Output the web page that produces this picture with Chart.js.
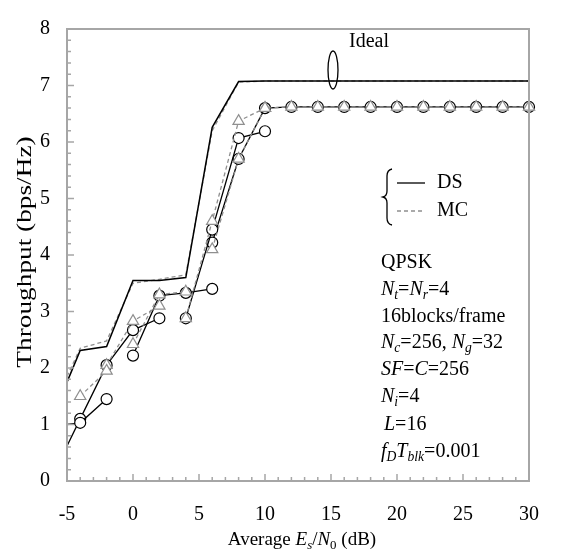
<!DOCTYPE html>
<html lang="en">
<head>
<meta charset="UTF-8">
<title>Throughput vs average Es/N0</title>
<script src="https://cdn.jsdelivr.net/npm/chart.js@4.4.0/dist/chart.umd.min.js"></script>
<style>
  body { margin: 0; background: #fff; }
  canvas { display: block; }
</style>
</head>
<body>
<canvas id="chart" width="561" height="554"></canvas>
<script>
  // x values (average Es/N0, dB) and throughput (bps/Hz)
  const idealX = [-5, -4, -2, 0, 2, 4, 6, 8, 10, 12, 14, 16, 18, 20, 22, 24, 26, 28, 30];
  const idealDS = [1.75, 2.31, 2.38, 3.55, 3.55, 3.6, 6.26, 7.07, 7.08, 7.08, 7.08, 7.08, 7.08, 7.08, 7.08, 7.08, 7.08, 7.08, 7.08];
  const idealMC = [1.85, 2.35, 2.48, 3.5, 3.57, 3.65, 6.2, 7.06, 7.08, 7.08, 7.08, 7.08, 7.08, 7.08, 7.08, 7.08, 7.08, 7.08, 7.08];

  // DS curves (circles)
  const dsAx = [-5, -4, -2];
  const dsAy = [1.0, 1.03, 1.45];
  const dsBx = [-5, -4, -2, 0, 2];
  const dsBy = [0.62, 1.1, 2.05, 2.67, 2.88];
  const dsCx = [0, 2, 4, 6];
  const dsCy = [2.22, 3.28, 3.33, 3.4];
  const dsDx = [4, 6, 8, 10];
  const dsDy = [2.88, 4.45, 6.07, 6.19];
  const dsEx = [6, 8, 10, 12, 14, 16, 18, 20, 22, 24, 26, 28, 30];
  const dsEy = [4.22, 5.7, 6.6, 6.62, 6.62, 6.62, 6.62, 6.62, 6.62, 6.62, 6.62, 6.62, 6.62];

  // MC curves (triangles)
  const mcAx = [-4, -2];
  const mcAy = [1.5, 1.95];
  const mcBx = [-2, 0, 2];
  const mcBy = [2.05, 2.83, 3.1];
  const mcCx = [0, 2, 4];
  const mcCy = [2.42, 3.3, 3.35];
  const mcDx = [4, 6, 8, 10];
  const mcDy = [2.88, 4.6, 6.37, 6.6];
  const mcEx = [6, 8, 10, 12, 14, 16, 18, 20, 22, 24, 26, 28, 30];
  const mcEy = [4.1, 5.7, 6.6, 6.62, 6.62, 6.62, 6.62, 6.62, 6.62, 6.62, 6.62, 6.62, 6.62];

  const xTicks = [-5, 0, 5, 10, 15, 20, 25, 30];
  const yTicks = [0, 1, 2, 3, 4, 5, 6, 7, 8];

  const SERIF = '"Liberation Serif", "Times New Roman", serif';
  const GRAY = '#8f8f8f';
  const AXIS = '#a6a6a6';

  const pts = (xs, ys) => xs.map((x, i) => ({ x: x, y: ys[i] }));

  function ideal(xs, ys, dashed) {
    return {
      data: pts(xs, ys),
      borderColor: dashed ? GRAY : '#000',
      borderWidth: dashed ? 1.3 : 1.5,
      borderDash: dashed ? [4, 3] : [],
      pointRadius: 0,
      order: 3
    };
  }

  function ds(xs, ys) {
    return {
      data: pts(xs, ys),
      borderColor: '#000',
      borderWidth: 1.3,
      pointStyle: 'circle',
      pointRadius: xs.map(x => x === -5 ? 0 : 5.5),
      pointBorderWidth: 1.2,
      pointBackgroundColor: '#fff',
      pointBorderColor: '#000',
      order: 2
    };
  }

  function mc(xs, ys) {
    return {
      data: pts(xs, ys),
      borderColor: GRAY,
      borderWidth: 1.3,
      borderDash: [4, 3],
      pointStyle: 'triangle',
      pointRadius: 6.5,
      pointBorderWidth: 1.2,
      pointBackgroundColor: '#fff',
      pointBorderColor: GRAY,
      order: 1
    };
  }

  function runs(ctx, x, y, parts, size) {
    // parts: [text, style] with style n / i / s (subscript) / si (italic subscript)
    let cx = x;
    parts.forEach(([t, st]) => {
      const sub = st[0] === 's';
      const it = st.indexOf('i') >= 0;
      const fs = sub ? size * 0.68 : size;
      ctx.font = (it ? 'italic ' : '') + fs + 'px ' + SERIF;
      ctx.fillText(t, cx, sub ? y + size * 0.28 : y);
      cx += ctx.measureText(t).width;
    });
    return cx - x;
  }

  function runsWidth(ctx, parts, size) {
    let w = 0;
    parts.forEach(([t, st]) => {
      const sub = st[0] === 's';
      const it = st.indexOf('i') >= 0;
      ctx.font = (it ? 'italic ' : '') + (sub ? size * 0.68 : size) + 'px ' + SERIF;
      w += ctx.measureText(t).width;
    });
    return w;
  }

  const decor = {
    id: 'decor',
    afterDraw(chart) {
      const ctx = chart.ctx;
      const a = chart.chartArea;
      const xs = chart.scales.x, ys = chart.scales.y;
      ctx.save();

      // frame
      ctx.strokeStyle = AXIS;
      ctx.lineWidth = 2;
      ctx.strokeRect(a.left, a.top, a.right - a.left, a.bottom - a.top);

      // inward ticks
      ctx.lineWidth = 1.5;
      ctx.beginPath();
      for (let v = -5; v <= 30; v++) {
        const p = xs.getPixelForValue(v);
        const len = v % 5 === 0 ? 7 : 4;
        ctx.moveTo(p, a.bottom);
        ctx.lineTo(p, a.bottom - len);
      }
      for (let k = 0; k <= 40; k++) {
        const v = k / 5;
        const p = ys.getPixelForValue(v);
        const len = k % 5 === 0 ? 7 : 4;
        ctx.moveTo(a.left, p);
        ctx.lineTo(a.left + len, p);
      }
      ctx.stroke();

      ctx.fillStyle = '#000';
      ctx.textBaseline = 'middle';
      ctx.textAlign = 'left';

      // axis titles
      ctx.save();
      ctx.translate(25, 252);
      ctx.rotate(-Math.PI / 2);
      ctx.scale(1.3, 1);
      ctx.textAlign = 'center';
      ctx.font = '21px ' + SERIF;
      ctx.fillText('Throughput (bps/Hz)', 0, 0);
      ctx.restore();

      const xt = [['Average ', 'n'], ['E', 'i'], ['s', 'si'], ['/', 'n'], ['N', 'i'], ['0', 's'], [' (dB)', 'n']];
      const w = runsWidth(ctx, xt, 19);
      runs(ctx, 302 - w / 2, 540, xt, 19);

      // "Ideal" label with ellipse
      ctx.font = '20px ' + SERIF;
      ctx.fillText('Ideal', 349, 42);
      ctx.strokeStyle = '#000';
      ctx.lineWidth = 1.3;
      ctx.beginPath();
      ctx.ellipse(333, 70, 5, 19, 0, 0, Math.PI * 2);
      ctx.stroke();

      // legend with brace
      ctx.beginPath();
      ctx.moveTo(392, 169);
      ctx.quadraticCurveTo(387, 170, 387, 176);
      ctx.lineTo(387, 191);
      ctx.quadraticCurveTo(387, 196, 383, 197);
      ctx.quadraticCurveTo(387, 198, 387, 203);
      ctx.lineTo(387, 218);
      ctx.quadraticCurveTo(387, 224, 392, 225);
      ctx.stroke();

      ctx.beginPath();
      ctx.moveTo(397, 183);
      ctx.lineTo(425, 183);
      ctx.stroke();
      ctx.strokeStyle = GRAY;
      ctx.setLineDash([4, 3]);
      ctx.beginPath();
      ctx.moveTo(397, 211);
      ctx.lineTo(425, 211);
      ctx.stroke();
      ctx.setLineDash([]);
      ctx.fillText('DS', 437, 183);
      ctx.fillText('MC', 437, 211);

      // simulation parameters
      const lines = [
        [['QPSK', 'n']],
        [['N', 'i'], ['t', 'si'], ['=', 'n'], ['N', 'i'], ['r', 'si'], ['=4', 'n']],
        [['16blocks/frame', 'n']],
        [['N', 'i'], ['c', 'si'], ['=256, ', 'n'], ['N', 'i'], ['g', 'si'], ['=32', 'n']],
        [['SF', 'i'], ['=', 'n'], ['C', 'i'], ['=256', 'n']],
        [['N', 'i'], ['i', 'si'], ['=4', 'n']],
        [['L', 'i'], ['=16', 'n']],
        [['f', 'i'], ['D', 'si'], ['T', 'i'], ['blk', 'si'], ['=0.001', 'n']]
      ];
      const ly = [263, 290, 317, 343, 370, 397, 425, 452];
      lines.forEach((ln, i) => runs(ctx, i === 6 ? 384 : 381, ly[i], ln, 20));

      ctx.restore();
    }
  };

  new Chart(document.getElementById('chart'), {
    type: 'line',
    data: {
      datasets: [
        ideal(idealX, idealDS, false),
        ideal(idealX, idealMC, true),
        ds(dsAx, dsAy), ds(dsBx, dsBy), ds(dsCx, dsCy), ds(dsDx, dsDy), ds(dsEx, dsEy),
        mc(mcAx, mcAy), mc(mcBx, mcBy), mc(mcCx, mcCy), mc(mcDx, mcDy), mc(mcEx, mcEy)
      ]
    },
    options: {
      responsive: false,
      animation: false,
      layout: { padding: { top: 13, right: 24, left: 0, bottom: 0 } },
      plugins: { legend: { display: false }, tooltip: { enabled: false } },
      elements: { line: { tension: 0 } },
      datasets: { line: { clip: false } },
      scales: {
        x: {
          type: 'linear', min: -5, max: 30,
          afterBuildTicks: s => { s.ticks = xTicks.map(v => ({ value: v })); },
          afterFit: s => { s.height = 73; },
          grid: { display: false, drawTicks: false },
          border: { display: false },
          ticks: { padding: 22, color: '#000', font: { family: SERIF, size: 20 } }
        },
        y: {
          type: 'linear', min: 0, max: 8,
          afterBuildTicks: s => { s.ticks = yTicks.map(v => ({ value: v })); },
          afterFit: s => { s.width = 67; },
          grid: { display: false, drawTicks: false },
          border: { display: false },
          ticks: { padding: 17, color: '#000', font: { family: SERIF, size: 20 } }
        }
      }
    },
    plugins: [decor]
  });
</script>
</body>
</html>
